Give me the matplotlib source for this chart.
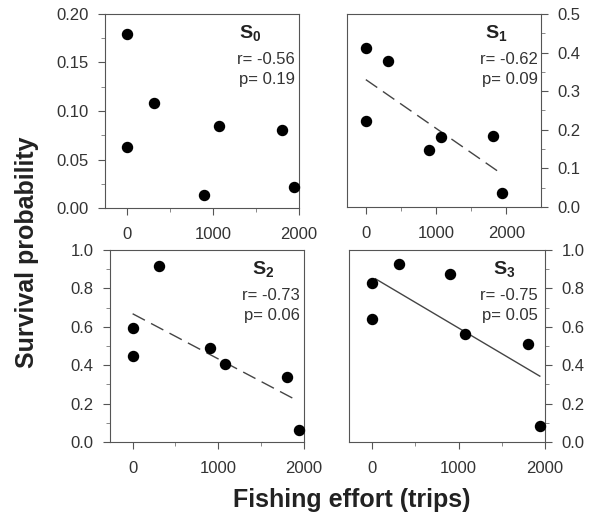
import matplotlib
matplotlib.use('Agg')
from matplotlib import pyplot as plt
from matplotlib.ticker import MultipleLocator

plt.rcParams['font.family'] = ['Liberation Sans', 'DejaVu Sans']
plt.rcParams['mathtext.fontset'] = 'custom'
plt.rcParams['mathtext.rm'] = 'Liberation Sans'
plt.rcParams['mathtext.bf'] = 'Liberation Sans:bold'

# fishing effort (trips), shared by all four stages
effort = [0, 0, 310, 900, 1075, 1805, 1945]

s0 = [0.179, 0.063, 0.108, 0.013, 0.085, 0.080, 0.022]
s1 = [0.411, 0.223, 0.377, 0.148, 0.182, 0.185, 0.035]
s2 = [0.595, 0.450, 0.917, 0.492, 0.407, 0.341, 0.064]
s3 = [0.830, 0.642, 0.927, 0.877, 0.563, 0.513, 0.082]

stage_names = ['0', '1', '2', '3']
r_vals = ['-0.56', '-0.62', '-0.73', '-0.75']
p_vals = ['0.19', '0.09', '0.06', '0.05']

# regression line end points (None = no line drawn)
fit_x = [None, [0, 1925], [0, 1920], [40, 1940]]
fit_y = [None, [0.330, 0.087], [0.668, 0.216], [0.850, 0.343]]
fit_style = [None, (0, (10, 5)), (0, (10, 5)), '-']

ymax = [0.20, 0.5, 1.0, 1.0]
ymajor = [0.05, 0.1, 0.2, 0.2]
ylabels = [['0.00', '0.05', '0.10', '0.15', '0.20'],
           ['0.0', '0.1', '0.2', '0.3', '0.4', '0.5'],
           ['0.0', '0.2', '0.4', '0.6', '0.8', '1.0'],
           ['0.0', '0.2', '0.4', '0.6', '0.8', '1.0']]
xlims = [(-256, 2000), (-268, 2494), (-264, 2000), (-266, 2000)]

W, H = 603, 522
# axes boxes in pixels: left, top, right, bottom
boxes = [(105, 14, 299, 208), (347, 14, 541, 207),
         (110, 250, 304, 442), (349, 250, 545, 442)]
# text anchors in axes fraction: S label x, r/p right edge
txt_pos = [(0.75, 0.98), (0.77, 0.985), (0.79, 0.98), (0.79, 0.965)]

fig = plt.figure(figsize=(W / 100, H / 100), dpi=100)
edge = '#555555'
data = [s0, s1, s2, s3]

for i in range(4):
    l, t, r, b = boxes[i]
    ax = fig.add_axes([l / W, 1 - b / H, (r - l) / W, (b - t) / H])
    ax.scatter(effort, data[i], s=52, color='black', zorder=3, clip_on=False)
    if fit_x[i] is not None:
        ax.plot(fit_x[i], fit_y[i], color='#444444', lw=1.0, linestyle=fit_style[i])
    ax.set_xlim(*xlims[i])
    ax.set_ylim(0, ymax[i])
    ax.set_xticks([0, 1000, 2000])
    ax.xaxis.set_minor_locator(MultipleLocator(500))
    yt = [k * ymajor[i] for k in range(len(ylabels[i]))]
    ax.set_yticks(yt)
    ax.set_yticklabels(ylabels[i])
    ax.yaxis.set_minor_locator(MultipleLocator(ymajor[i] / 2))
    if i % 2 == 1:
        ax.yaxis.tick_right()
    for sp in ax.spines.values():
        sp.set_color(edge)
        sp.set_linewidth(0.8)
    ax.tick_params(which='major', direction='out', length=5, width=0.8, color=edge,
                   labelsize=12, labelcolor='#333333', pad=7)
    ax.tick_params(which='minor', direction='out', length=3, width=0.7, color='#888888')
    ax.tick_params(axis='x', which='major', pad=9)

    sx, rx = txt_pos[i]
    ax.text(sx, 0.90, r'$\mathbf{S_{%s}}$' % stage_names[i], transform=ax.transAxes,
            ha='center', va='center', fontsize=14, color='#222222')
    ax.text(rx, 0.765, 'r= ' + r_vals[i], transform=ax.transAxes,
            ha='right', va='center', fontsize=12, color='#333333')
    ax.text(rx, 0.66, 'p= ' + p_vals[i], transform=ax.transAxes,
            ha='right', va='center', fontsize=12, color='#333333')

fig.text(27 / W, 1 - 252 / H, 'Survival probability', rotation=90, ha='center', va='center',
         fontsize=18, fontweight='bold', color='#222222')
fig.text(352 / W, 1 - 500 / H, 'Fishing effort (trips)', ha='center', va='center',
         fontsize=18, fontweight='bold', color='#222222')

fig.savefig('out.png', dpi=100)
